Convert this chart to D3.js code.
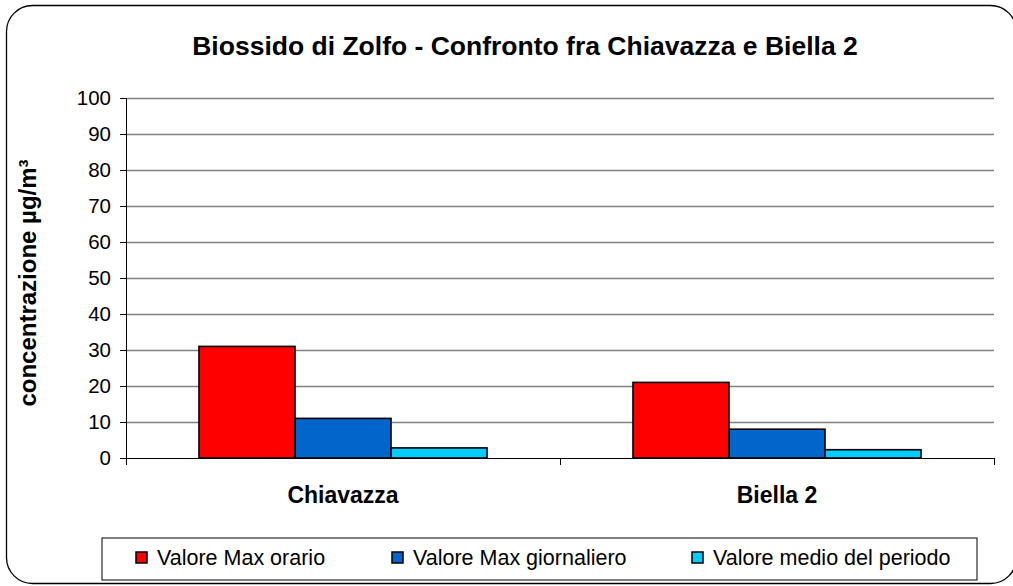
<!DOCTYPE html>
<html><head><meta charset="utf-8">
<script src="https://cdn.jsdelivr.net/npm/d3@7"></script>
<style>html,body{margin:0;padding:0;background:#fff;}svg{display:block;font-family:"Liberation Sans",Arial,sans-serif;}</style>
</head><body>
<script>
const categories = ["Chiavazza", "Biella 2"];
const seriesNames = ["Valore Max orario", "Valore Max giornaliero", "Valore medio del periodo"];
const maxOrario = [31, 21];
const maxGiornaliero = [11, 8];
const medioPeriodo = [2.8, 2.3];
const yTicks = [0,10,20,30,40,50,60,70,80,90,100];
const colors = ["#FF0000", "#0066CC", "#00CCFF"];
const title = "Biossido di Zolfo - Confronto fra Chiavazza e Biella 2";
const yLabel = "concentrazione µg/m³";

const W = 1013, H = 586;
const svg = d3.select("body").append("svg").attr("width", W).attr("height", H);

svg.append("rect").attr("x", 6.5).attr("y", 5.5).attr("width", 1010).attr("height", 578)
  .attr("rx", 26).attr("ry", 26).attr("fill", "#fff").attr("stroke", "#000").attr("stroke-width", 1.3);

const L = 126, R = 994, T = 98, B = 458;
const x0 = d3.scaleBand().domain(categories).range([L, R]).paddingInner(0).paddingOuter(0);
const series = [maxOrario, maxGiornaliero, medioPeriodo];
const x1 = d3.scaleBand().domain(d3.range(3)).range([0, x0.bandwidth()]).paddingInner(0).paddingOuter(0.76);
const y = d3.scaleLinear().domain([0, 100]).range([B, T]);

// gridlines
svg.append("g").selectAll("line").data(yTicks.filter(d => d > 0)).join("line")
  .attr("x1", L).attr("x2", R).attr("y1", d => Math.round(y(d)) + 0.5).attr("y2", d => Math.round(y(d)) + 0.5)
  .attr("stroke", "#808080").attr("stroke-width", 1.5);

// bars
categories.forEach((c, ci) => {
  svg.append("g").selectAll("rect").data(series.map((s, si) => ({si, v: s[ci]}))).join("rect")
    .attr("x", d => x0(c) + x1(d.si))
    .attr("width", x1.bandwidth())
    .attr("y", d => y(d.v))
    .attr("height", d => y(0) - y(d.v))
    .attr("fill", d => colors[d.si]).attr("stroke", "#000").attr("stroke-width", 1.6);
});

// y axis
const yAxis = d3.axisLeft(y).tickValues(yTicks).tickSize(6).tickPadding(9).tickFormat(d3.format("d"));
const gy = svg.append("g").attr("transform", `translate(${L},0)`).call(yAxis);
gy.select(".domain").remove();
gy.selectAll(".tick line").attr("stroke", "#000");
gy.selectAll(".tick text").attr("font-size", 20.5).attr("fill", "#000")
  .attr("font-family", '"Liberation Sans",Arial,sans-serif');
svg.append("line").attr("x1", L + 0.5).attr("x2", L + 0.5).attr("y1", T).attr("y2", B + 7).attr("stroke", "#000").attr("stroke-width", 1);

// x axis
svg.append("line").attr("x1", L).attr("x2", R).attr("y1", B + 0.5).attr("y2", B + 0.5).attr("stroke", "#000").attr("stroke-width", 1);
const xt = [L, x0(categories[1]), R];
svg.append("g").selectAll("line").data(xt).join("line")
  .attr("x1", d => d + 0.5).attr("x2", d => d + 0.5).attr("y1", B).attr("y2", B + 7).attr("stroke", "#000");
svg.append("g").selectAll("text").data(categories).join("text")
  .attr("x", d => x0(d) + x0.bandwidth() / 2).attr("y", 503)
  .attr("text-anchor", "middle").attr("font-size", 23).attr("font-weight", "bold").text(d => d);

// title
svg.append("text").attr("x", 525).attr("y", 55).attr("text-anchor", "middle")
  .attr("font-size", 26.5).attr("font-weight", "bold").text(title);

// y label
svg.append("text").attr("transform", "translate(36,283) rotate(-90)").attr("text-anchor", "middle")
  .attr("font-size", 24).attr("font-weight", "bold").text(yLabel);

// legend
svg.append("rect").attr("x", 102).attr("y", 538).attr("width", 875).attr("height", 42)
  .attr("fill", "#fff").attr("stroke", "#000").attr("stroke-width", 1);
const legX = [136, 392, 692];
const lg = svg.append("g").selectAll("g").data(seriesNames).join("g")
  .attr("transform", (d, i) => `translate(${legX[i]},552)`);
lg.append("rect").attr("width", 11).attr("height", 11).attr("fill", (d, i) => colors[i]).attr("stroke", "#000").attr("stroke-width", 1.5);
lg.append("text").attr("x", 21).attr("y", 13).attr("font-size", 21.5).text(d => d);
</script>
</body></html>
